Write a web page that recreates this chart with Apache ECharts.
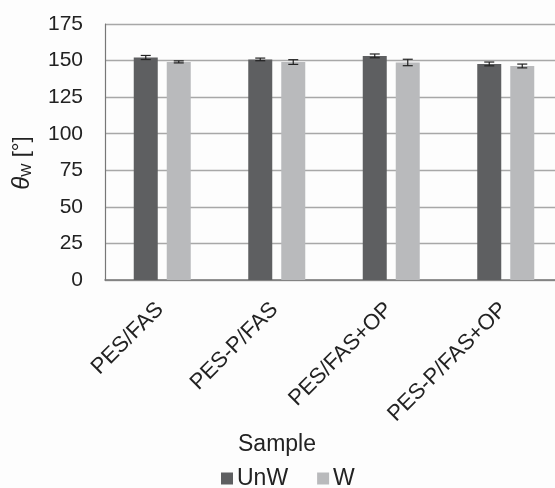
<!DOCTYPE html>
<html>
<head>
<meta charset="utf-8">
<script src="https://cdn.jsdelivr.net/npm/echarts@6/dist/echarts.min.js"></script>
<style>
  html, body { margin: 0; padding: 0; background: #fdfdfd; }
  #chart { width: 555px; height: 488px; }
</style>
</head>
<body>
<div id="chart"></div>
<script>
// Water contact angle per sample, unwashed (UnW) vs washed (W)
const categories = ['PES/FAS', 'PES-P/FAS', 'PES/FAS+OP', 'PES-P/FAS+OP'];
const unwValues = [152.1, 150.8, 153.2, 147.7];
const unwErrors = [1.4, 0.9, 1.3, 1.3];
const wValues = [149.1, 149.0, 148.7, 146.3];
const wErrors = [0.7, 1.6, 2.2, 1.3];
const yTicks = [0, 25, 50, 75, 100, 125, 150, 175];

const BAR_W = 24;
const BAR_GAP = 9;
const OFFSET = (BAR_W + BAR_GAP) / 2;

const font = '"Liberation Sans", Arial, sans-serif';
const ink = '#222';

function errorSeries(name, values, errors, dx) {
  return {
    type: 'custom',
    name: name + ' err',
    z: 5,
    silent: true,
    data: values.map((v, i) => [i, v - errors[i], v + errors[i]]),
    renderItem: function (params, api) {
      const lo = api.coord([api.value(0), api.value(1)]);
      const hi = api.coord([api.value(0), api.value(2)]);
      const x = lo[0] + dx;
      const cap = 5;
      const style = { stroke: '#222', lineWidth: 1.2 };
      return {
        type: 'group',
        children: [
          { type: 'line', shape: { x1: x, y1: lo[1], x2: x, y2: hi[1] }, style },
          { type: 'line', shape: { x1: x - cap, y1: lo[1], x2: x + cap, y2: lo[1] }, style },
          { type: 'line', shape: { x1: x - cap, y1: hi[1], x2: x + cap, y2: hi[1] }, style }
        ]
      };
    }
  };
}

const chart = echarts.init(document.getElementById('chart'));
chart.setOption({
  backgroundColor: '#fdfdfd',
  animation: false,
  textStyle: { fontFamily: font },
  grid: { left: 105, top: 24, width: 458, height: 256, outerBoundsMode: 'none', containLabel: false },
  legend: {
    left: 216,
    top: 462,
    itemWidth: 12,
    itemHeight: 12,
    itemGap: 29,
    icon: 'rect',
    data: ['UnW', 'W'],
    textStyle: { fontSize: 23, color: ink, fontFamily: font, padding: [0, 0, 0, -1] }
  },
  xAxis: {
    type: 'category',
    data: categories,
    name: 'Sample',
    nameLocation: 'middle',
    nameGap: 148,
    nameTextStyle: { fontSize: 23, color: ink, fontFamily: font, padding: [0, 114, 0, 0] },
    axisLine: { lineStyle: { color: '#777', width: 1.5 } },
    axisTick: { show: false },
    axisLabel: { rotate: 45, fontSize: 22, color: ink, margin: 24, fontFamily: font, padding: [0, 3, 0, 0] }
  },
  yAxis: {
    type: 'value',
    min: 0,
    max: 175,
    interval: 25,
    name: '{t|θ}{s|W} [°]',
    nameLocation: 'middle',
    nameGap: 71,
    nameRotate: 90,
    nameTextStyle: {
      fontSize: 22,
      color: ink,
      fontFamily: font,
      padding: [0, 22, 0, 0],
      rich: {
        t: { fontSize: 24, fontStyle: 'italic', color: ink, fontFamily: font },
        s: { fontSize: 14, color: ink, verticalAlign: 'bottom', padding: [9, 0, 0, 0], fontFamily: font }
      }
    },
    axisLine: { show: true, lineStyle: { color: '#777', width: 1.2 } },
    axisTick: { show: false },
    axisLabel: {
      fontSize: 21,
      color: ink,
      margin: 22,
      fontFamily: font,
      formatter: v => (yTicks.includes(v) ? String(v) : '')
    },
    splitLine: { lineStyle: { color: '#a8a8a8', width: 1.3 } }
  },
  series: [
    {
      name: 'UnW',
      type: 'bar',
      data: unwValues,
      barWidth: BAR_W,
      barGap: (BAR_GAP / BAR_W * 100) + '%',
      itemStyle: { color: '#5e5f61' }
    },
    {
      name: 'W',
      type: 'bar',
      data: wValues,
      barWidth: BAR_W,
      itemStyle: { color: '#b9babc' }
    },
    errorSeries('UnW', unwValues, unwErrors, -OFFSET),
    errorSeries('W', wValues, wErrors, OFFSET)
  ]
});
</script>
</body>
</html>
